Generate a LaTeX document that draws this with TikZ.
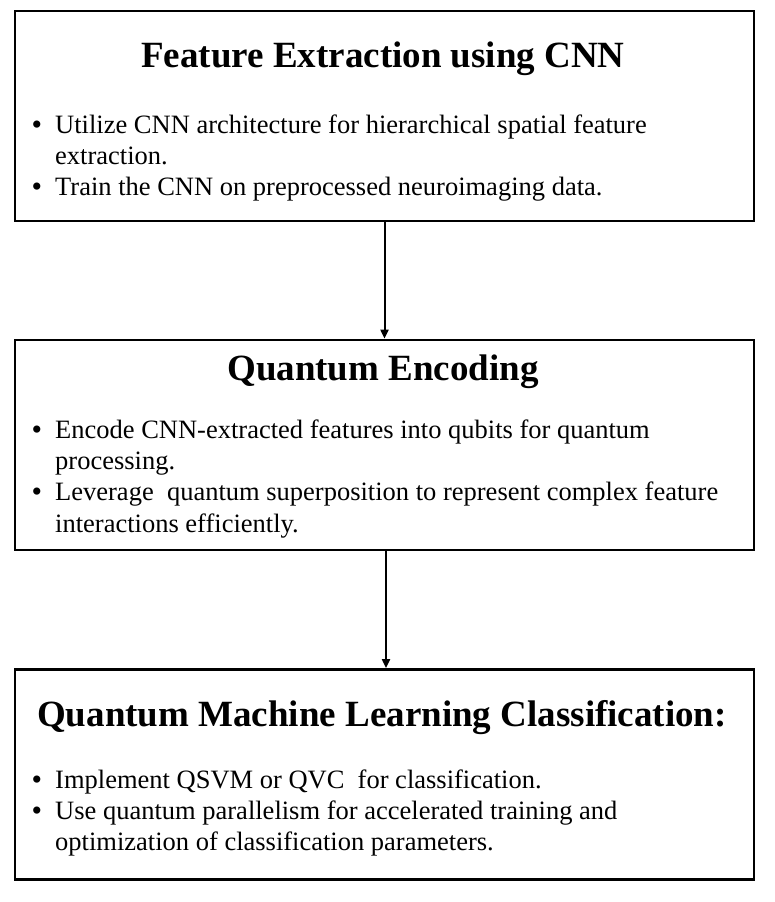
\documentclass[tikz,border=0pt]{standalone}
\usepackage{fontspec}
\setmainfont{Liberation Serif}
\usetikzlibrary{arrows.meta}
\begin{document}
\begin{tikzpicture}[x=1pt,y=-1pt,
  box/.style={draw=black,line width=2.8pt,minimum width=739pt,minimum height=210pt,inner sep=0pt,fill=white},
  ttl/.style={anchor=base,inner sep=0pt,font=\fontsize{37}{42}\selectfont\bfseries},
  txt/.style={anchor=base west,inner sep=0pt,font=\fontsize{26.5}{31}\selectfont},
  bul/.style={anchor=base,inner sep=0pt,font=\fontsize{30}{34}\selectfont},
  arr/.style={line width=2pt,-{Triangle[width=8pt,length=9pt]}}]
\useasboundingbox (0,0) rectangle (775,902);
\node[box] (b1) at (384.5,116) {};
\node[box] (b2) at (384.5,445) {};
\node[box] (b3) at (384.5,774.5) {};
% box 1
\node[ttl] (t1) at (383,67) {Feature Extraction using CNN};
\node[bul] (u11) at (37,134) {\textbullet};
\node[txt] (l11) at (55,133) {Utilize CNN architecture for hierarchical spatial feature};
\node[txt] (l12) at (55,164) {extraction.};
\node[bul] (u12) at (37,196) {\textbullet};
\node[txt] (l13) at (55,195) {Train the CNN on preprocessed neuroimaging data.};
% box 2
\node[ttl] (t2) at (383,380) {Quantum Encoding};
\node[bul] (u21) at (37,439) {\textbullet};
\node[txt] (l21) at (55,438) {Encode CNN-extracted features into qubits for quantum};
\node[txt] (l22) at (55,469) {processing.};
\node[bul] (u22) at (37,501) {\textbullet};
\node[txt] (l23) at (55,500) {Leverage\ \ quantum superposition to represent complex feature};
\node[txt] (l24) at (55,532) {interactions efficiently.};
% box 3
\node[ttl] (t3) at (382,726) {Quantum Machine Learning Classification:};
\node[bul] (u31) at (37,789) {\textbullet};
\node[txt] (l31) at (55,788) {Implement QSVM or QVC\ \ for classification.};
\node[bul] (u32) at (37,820) {\textbullet};
\node[txt] (l32) at (55,819) {Use quantum parallelism for accelerated training and};
\node[txt] (l33) at (55,850) {optimization of classification parameters.};
% arrows
\draw[arr] (b1.south) -- (b2.north);
\draw[arr] ([xshift=1.5pt]b2.south) -- ([xshift=1.5pt]b3.north);
\end{tikzpicture}
\end{document}
